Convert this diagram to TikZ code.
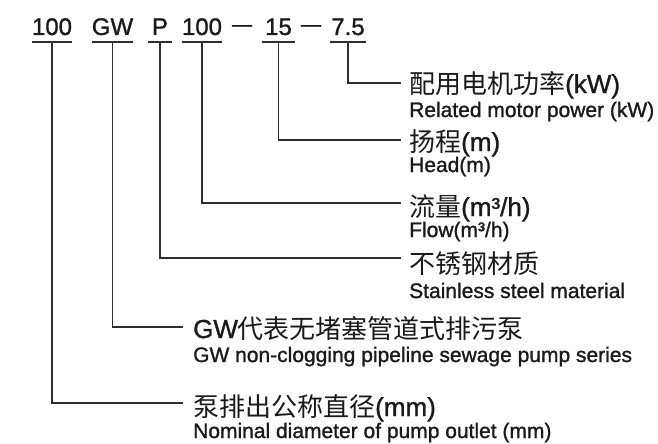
\documentclass[tikz,border=0pt]{standalone}
\usepackage{fontspec}
\setmainfont{Liberation Sans}[RawFeature={embolden=1.2}]
\newfontfamily\cjk{Noto Sans CJK SC}
\definecolor{ink}{HTML}{1A1A1A}
\definecolor{linec}{HTML}{2E2E2E}
\tikzset{
  toplbl/.style={anchor=base, inner sep=0pt, text depth=0pt, font=\fontsize{24}{24}\selectfont, text=ink},
  dashlbl/.style={anchor=base, inner sep=0pt, font=\fontsize{20}{20}\selectfont, text=ink},
  cnlbl/.style={anchor=base west, inner sep=0pt, font=\fontsize{26}{26}\selectfont, text=ink},
  enlbl/.style={anchor=base west, inner sep=0pt, font=\fontsize{21}{21}\selectfont, text=ink},
  conn/.style={draw=linec, line width=1.8pt},
}
\begin{document}
\begin{tikzpicture}[x=1pt, y=-1pt]
\useasboundingbox (0,0) rectangle (658,444);
% top code
\node[toplbl, minimum width=40pt] (t1) at (52,35) {100};
\node[toplbl, minimum width=41pt] (t2) at (112.5,35) {GW};
\node[toplbl, minimum width=24pt] (t3) at (160,35) {P};
\node[toplbl, minimum width=40pt] (t4) at (202,35) {100};
\node[dashlbl] (d1) at (242,31) {—};
\node[toplbl, minimum width=33pt] (t5) at (278.5,35) {15};
\node[dashlbl] (d2) at (311,31) {—};
\node[toplbl, minimum width=36pt] (t6) at (348,35) {7.5};
% underlines
\foreach \t in {t1,t2,t3,t4,t5,t6}
  \draw[conn] ([yshift=-7pt]\t.south west) -- ([yshift=-7pt]\t.south east);
% line ends
\coordinate (k6) at (401,83);
\coordinate (k5) at (401,140);
\coordinate (k4) at (401,203);
\coordinate (k3) at (401,258);
\coordinate (k2) at (183,327);
\coordinate (k1) at (183,403);
% connectors
\draw[conn] ([yshift=-7pt]t6.south) |- (k6);
\draw[conn] ([yshift=-7pt]t5.south) |- (k5);
\draw[conn] ([yshift=-7pt]t4.south) |- (k4);
\draw[conn] ([yshift=-7pt]t3.south) |- (k3);
\draw[conn] ([yshift=-7pt]t2.south) |- (k2);
\draw[conn] ([yshift=-7pt]t1.south) |- (k1);
% labels
\node[cnlbl] (c6) at (409,93) {{\cjk 配用电机功率}(kW)};
\node[enlbl] (e6) at (409,117) {Related motor power (kW)};
\node[cnlbl] (c5) at (409,151) {{\cjk 扬程}(m)};
\node[enlbl] (e5) at (409,172) {Head(m)};
\node[cnlbl] (c4) at (409,216) {{\cjk 流量}(m³/h)};
\node[enlbl] (e4) at (409,237) {Flow(m³/h)};
\node[cnlbl] (c3) at (409,273) {{\cjk 不锈钢材质}};
\node[enlbl] (e3) at (409,298) {Stainless steel material};
\node[cnlbl] (c2) at (193,338) {GW{\cjk 代表无堵塞管道式排污泵}};
\node[enlbl] (e2) at (193,362) {GW non-clogging pipeline sewage pump series};
\node[cnlbl] (c1) at (193,416) {{\cjk 泵排出公称直径}(mm)};
\node[enlbl] (e1) at (193,438) {Nominal diameter of pump outlet (mm)};
\end{tikzpicture}
\end{document}
